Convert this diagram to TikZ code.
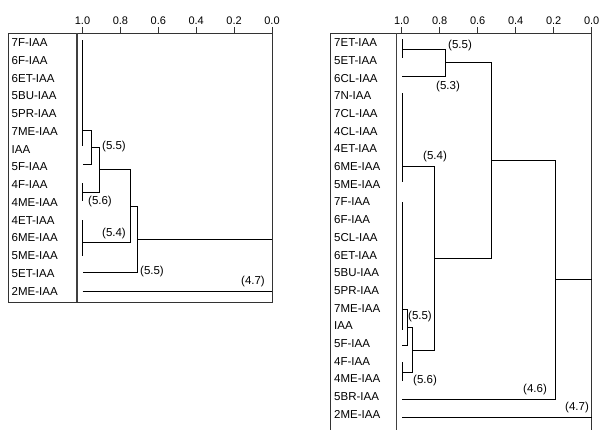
\documentclass[tikz,border=0pt]{standalone}
\usepackage{fontspec}
\setmainfont{Liberation Sans}
\tikzset{
  rowlabel/.style={anchor=west,inner sep=0pt,font=\fontsize{11.5}{12}\selectfont,text height=8.2pt,text depth=0pt},
  axlabel/.style={anchor=center,inner sep=0pt,font=\fontsize{11}{12}\selectfont},
  vlabel/.style={anchor=center,inner sep=0pt,font=\fontsize{11.5}{12}\selectfont},
  frame/.style={draw=black!80,line width=0.9pt},
  divider/.style={draw=black!75,line width=1.4pt},
  dline/.style={draw=black,line width=0.9pt},
}
\begin{document}
\begin{tikzpicture}[x=1pt,y=-1pt]
\useasboundingbox (0,0) rectangle (601,429);
% ---------- left panel ----------
\draw[frame] (8,33) rectangle (272,302);
\draw[divider] (77,33) -- (77,302);
\foreach \v [count=\k from 0] in {1.0,0.8,0.6,0.4,0.2,0.0}{
  \draw[frame] ({82.5+37.9*\k},27) -- ({82.5+37.9*\k},33);
  \node[axlabel] (lax\k) at ({82.5+37.9*\k},20.5) {\v};
}
\foreach \t [count=\i from 0] in {7F-IAA,6F-IAA,6ET-IAA,5BU-IAA,5PR-IAA,7ME-IAA,IAA,5F-IAA,4F-IAA,4ME-IAA,4ET-IAA,6ME-IAA,5ME-IAA,5ET-IAA,2ME-IAA}{
  \node[rowlabel] (L\i) at (11.5,{42.5+17.75*\i}) {\t};
}
\draw[dline] (82.5,40) -- (82.5,146);
\draw[dline] (82.5,130) -- (91,130) -- (91,164) -- (82.5,164);
\draw[dline] (91,147) -- (99,147) -- (99,192) -- (82.5,192);
\draw[dline] (82.5,183) -- (82.5,201);
\draw[dline] (99,169) -- (130,169) -- (130,242) -- (82.5,242);
\draw[dline] (82.5,220) -- (82.5,256);
\draw[dline] (130,206) -- (137,206) -- (137,272) -- (82.5,272);
\draw[dline] (137,239) -- (272,239);
\draw[dline] (82.5,291) -- (272,291);
\node[vlabel] (la1) at (114,147) {(5.5)};
\node[vlabel] (la2) at (100,202) {(5.6)};
\node[vlabel] (la3) at (114,234) {(5.4)};
\node[vlabel] (la4) at (152,272) {(5.5)};
\node[vlabel] (la5) at (253,282) {(4.7)};
% ---------- right panel ----------
\draw[frame] (330.7,431) -- (330.7,33) -- (591.7,33) -- (591.7,431);
\draw[divider] (396.5,33) -- (396.5,431);
\foreach \v [count=\k from 0] in {1.0,0.8,0.6,0.4,0.2,0.0}{
  \draw[frame] ({401.7+38*\k},27) -- ({401.7+38*\k},33);
  \node[axlabel] (rax\k) at ({401.7+38*\k},20.5) {\v};
}
\foreach \t [count=\i from 0] in {7ET-IAA,5ET-IAA,6CL-IAA,7N-IAA,7CL-IAA,4CL-IAA,4ET-IAA,6ME-IAA,5ME-IAA,7F-IAA,6F-IAA,5CL-IAA,6ET-IAA,5BU-IAA,5PR-IAA,7ME-IAA,IAA,5F-IAA,4F-IAA,4ME-IAA,5BR-IAA,2ME-IAA}{
  \node[rowlabel] (R\i) at (334,{42.5+17.7*\i}) {\t};
}
\draw[dline] (402,39) -- (402,58);
\draw[dline] (402,49) -- (445,49) -- (445,76) -- (402,76);
\draw[dline] (445,62) -- (491.7,62) -- (491.7,258) -- (434,258);
\draw[dline] (402,93) -- (402,182);
\draw[dline] (402,166) -- (434,166) -- (434,350) -- (412,350);
\draw[dline] (402,202) -- (402,330);
\draw[dline] (402,309) -- (407,309) -- (407,345) -- (402,345);
\draw[dline] (407,327) -- (412,327) -- (412,372) -- (402,372);
\draw[dline] (402,362) -- (402,381);
\draw[dline] (491.7,160.5) -- (555,160.5) -- (555,399) -- (402,399);
\draw[dline] (555,279) -- (591.7,279);
\draw[dline] (402,417) -- (591.7,417);
\node[vlabel] (ra1) at (460,46) {(5.5)};
\node[vlabel] (ra2) at (448,87) {(5.3)};
\node[vlabel] (ra3) at (435,157) {(5.4)};
\node[vlabel] (ra4) at (420,317) {(5.5)};
\node[vlabel] (ra5) at (425,381) {(5.6)};
\node[vlabel] (ra6) at (535,390) {(4.6)};
\node[vlabel] (ra7) at (577,408) {(4.7)};
\end{tikzpicture}
\end{document}
